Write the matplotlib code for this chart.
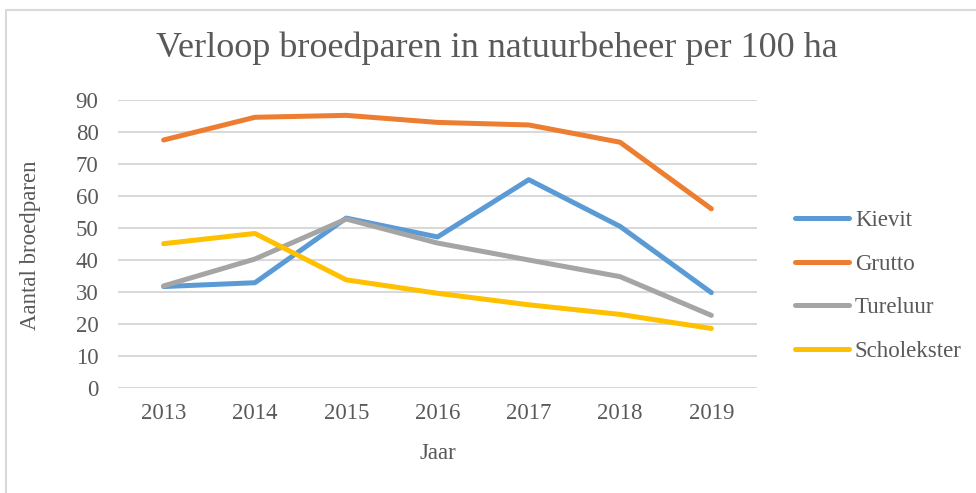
import matplotlib
matplotlib.use("Agg")
import matplotlib.pyplot as plt
from matplotlib.patches import Rectangle

# data
years = [2013, 2014, 2015, 2016, 2017, 2018, 2019]
kievit = [31.7, 32.9, 53.1, 47.2, 65.1, 50.5, 29.8]
grutto = [77.5, 84.6, 85.2, 83.0, 82.2, 76.8, 56.0]
tureluur = [31.9, 40.3, 52.8, 45.3, 40.0, 34.8, 22.7]
scholekster = [45.1, 48.3, 33.8, 29.6, 26.0, 23.0, 18.6]
yticks = [0, 10, 20, 30, 40, 50, 60, 70, 80, 90]

series = [
    ("Kievit", kievit, "#5B9BD5"),
    ("Grutto", grutto, "#ED7D31"),
    ("Tureluur", tureluur, "#A5A5A5"),
    ("Scholekster", scholekster, "#FFC000"),
]

plt.rcParams['font.family'] = ['Liberation Serif', 'DejaVu Serif']
txt = "#595959"

fig = plt.figure(figsize=(9.76, 4.93), dpi=100)
# chart frame
fig.patches.append(Rectangle((6 / 976, -0.1), 1.1, 1 - 10 / 493 + 0.1,
                             transform=fig.transFigure, fill=False,
                             edgecolor="#D9D9D9", linewidth=1.5))

ax = fig.add_axes([118 / 976, 1 - 388 / 493, (757 - 118) / 976, (388 - 100) / 493])
x = list(range(len(years)))
for name, vals, col in series:
    ax.plot(x, vals, color=col, linewidth=3.6, solid_capstyle="round",
            solid_joinstyle="round", label=name)

ax.set_xlim(-0.5, len(years) - 0.5)
ax.set_ylim(0, 90)
ax.set_yticks(yticks)
ax.set_xticks(x)
ax.set_xticklabels([str(y) for y in years])
ax.grid(axis="y", color="#D9D9D9", linewidth=1.5)
ax.set_axisbelow(True)
for s in ax.spines.values():
    s.set_visible(False)
ax.tick_params(length=0, labelsize=16.5, colors=txt, pad=11)
ax.tick_params(axis="y", pad=14)

ax.set_xlabel("Jaar", fontsize=16.5, color=txt)
ax.xaxis.set_label_coords(0.5, -0.192)
ax.set_ylabel("Aantal broedparen", fontsize=16.5, color=txt)
ax.yaxis.set_label_coords(-0.12, 0.497)

fig.text(497 / 976, 1 - 48 / 493, "Verloop broedparen in natuurbeheer per 100 ha",
         ha="center", va="center", fontsize=26, color=txt)

leg = ax.legend(loc="center left", bbox_to_anchor=(1.045, 0.355), frameon=False,
                fontsize=16.5, labelcolor=txt, handlelength=2.36, handletextpad=0.26,
                labelspacing=0.98, borderaxespad=0)

fig.savefig("out.png", dpi=100)
